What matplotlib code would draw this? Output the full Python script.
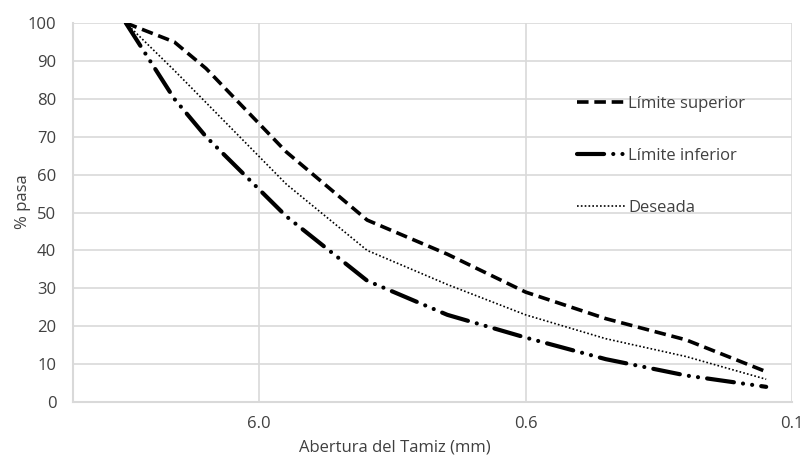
#!/usr/bin/env python3
"""Curva granulometrica: limites superior/inferior y curva deseada (eje x log invertido)."""
import matplotlib
matplotlib.use("Agg")
import matplotlib.pyplot as plt
from matplotlib.ticker import FixedLocator, FixedFormatter, NullLocator

# abertura del tamiz (mm)
tamiz = [19, 12.5, 9.5, 4.75, 2.36, 1.18, 0.6, 0.3, 0.15, 0.075]
lim_sup = [100, 95, 88, 66, 48, 39, 29, 22, 16.4, 8]
lim_inf = [100, 80, 70, 49, 32, 23, 17, 11.3, 7, 4]
deseada = [100, 87.5, 79, 57.5, 40, 31, 23, 16.7, 12, 6]

x_ticks = [6, 0.6, 0.06]
x_tick_labels = ["6.0", "0.6", "0.1"]
y_ticks = [0, 10, 20, 30, 40, 50, 60, 70, 80, 90, 100]

plt.rcParams["font.family"] = ["Open Sans", "DejaVu Sans"]
TXT = "#404040"
GRID = "#d9d9d9"
FS = 12

fig = plt.figure(figsize=(8.01, 4.57), dpi=100)
ax = fig.add_axes([73 / 801, 1 - 402 / 457, 719 / 801, 379 / 457])

ax.plot(tamiz, lim_sup, color="black", lw=2.6, linestyle=(0, (3.2, 1.6)),
        label="Límite superior")
ax.plot(tamiz, lim_inf, color="black", lw=3.0,
        linestyle=(0, (6.5, 2.2, 0.01, 2.2, 0.01, 2.2)),
        dash_capstyle="round", label="Límite inferior")
ax.plot(tamiz, deseada, color="black", lw=1.2, linestyle=(0, (1, 1.3)),
        label="Deseada")

ax.set_xscale("log")
ax.set_xlim(30, 0.06)
ax.set_ylim(0, 100)
ax.xaxis.set_major_locator(FixedLocator(x_ticks))
ax.xaxis.set_major_formatter(FixedFormatter(x_tick_labels))
ax.xaxis.set_minor_locator(NullLocator())
ax.set_yticks(y_ticks)

ax.grid(True, color=GRID, lw=1.2)
ax.set_axisbelow(True)
for side in ["top", "right"]:
    ax.spines[side].set_visible(False)
for side in ["left", "bottom"]:
    ax.spines[side].set_color(GRID)
    ax.spines[side].set_linewidth(1.5)

ax.tick_params(axis="both", length=0, labelsize=FS, labelcolor=TXT)
ax.tick_params(axis="x", pad=10)
ax.tick_params(axis="y", pad=12)

ax.set_xlabel("Abertura del Tamiz (mm)", fontsize=FS, color=TXT, va="center")
ax.set_ylabel("% pasa", fontsize=FS, color=TXT, va="center")
ax.xaxis.set_label_coords(0.448, -0.119)
ax.yaxis.set_label_coords(-0.07, 0.53)

leg = ax.legend(loc="upper left", bbox_to_anchor=(0.692, 0.825), frameon=False,
                fontsize=FS, labelspacing=2.15, handlelength=2.9,
                handletextpad=0.15, borderaxespad=0)
for t in leg.get_texts():
    t.set_color(TXT)

plt.savefig("out.png", dpi=100)
plt.close()
